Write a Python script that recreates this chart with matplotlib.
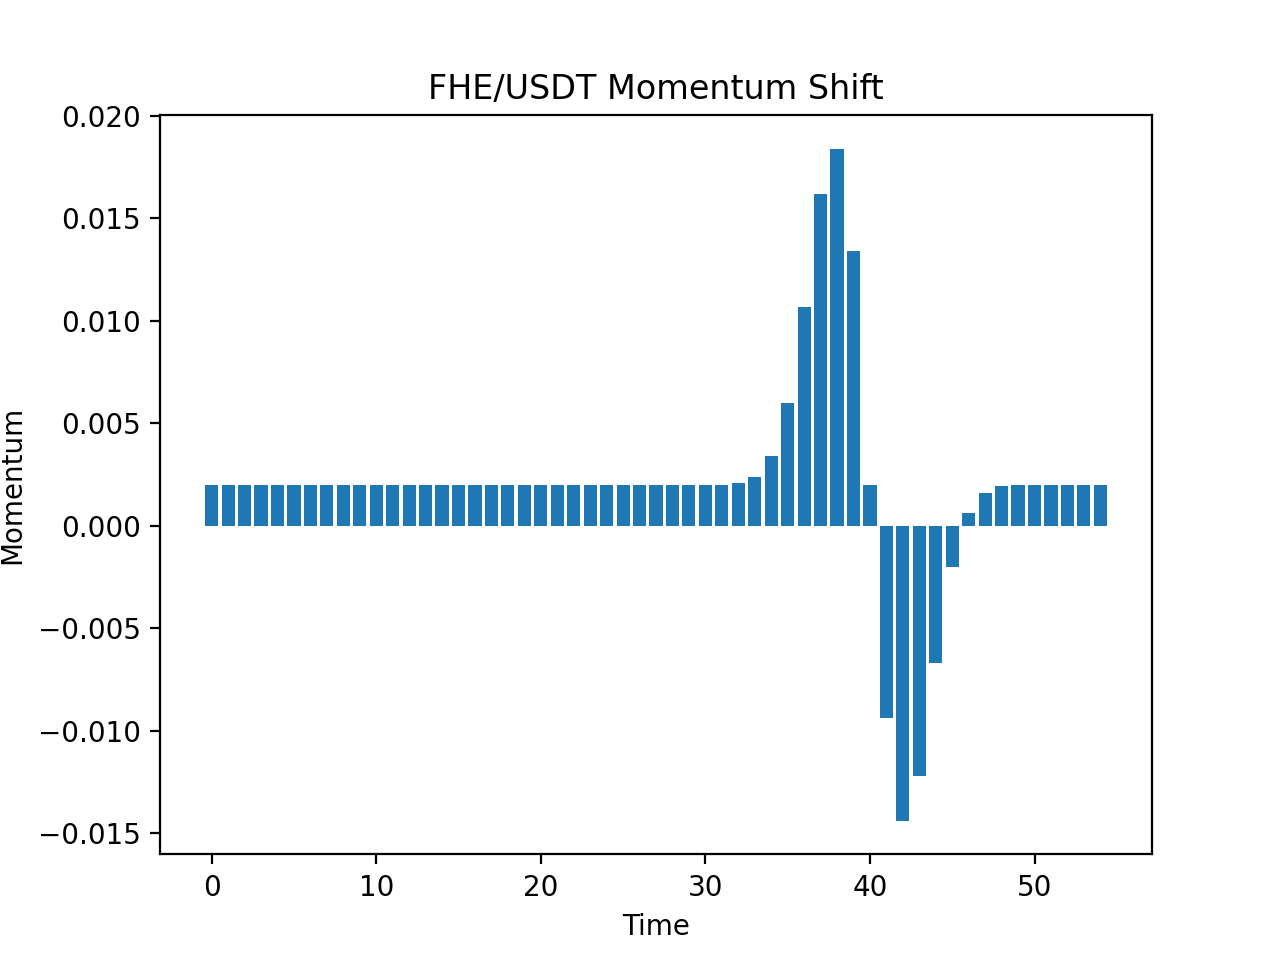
import matplotlib
matplotlib.use('Agg')
import matplotlib.pyplot as plt

# momentum values, one per time step
flat_start = [0.002] * 32
spike = [0.0021, 0.0024, 0.0034, 0.0060, 0.0107, 0.0162, 0.0184, 0.0134, 0.0020,
         -0.0094, -0.0144, -0.0122, -0.0067, -0.0020, 0.0006, 0.0016, 0.00195]
flat_end = [0.002] * 6

momentum = flat_start + spike + flat_end
time = list(range(len(momentum)))

fig, ax = plt.subplots(figsize=(6.4, 4.8), dpi=200)
ax.bar(time, momentum)
ax.set_title('FHE/USDT Momentum Shift')
ax.set_xlabel('Time')
ax.set_ylabel('Momentum')

fig.savefig('out.png', dpi=200)
